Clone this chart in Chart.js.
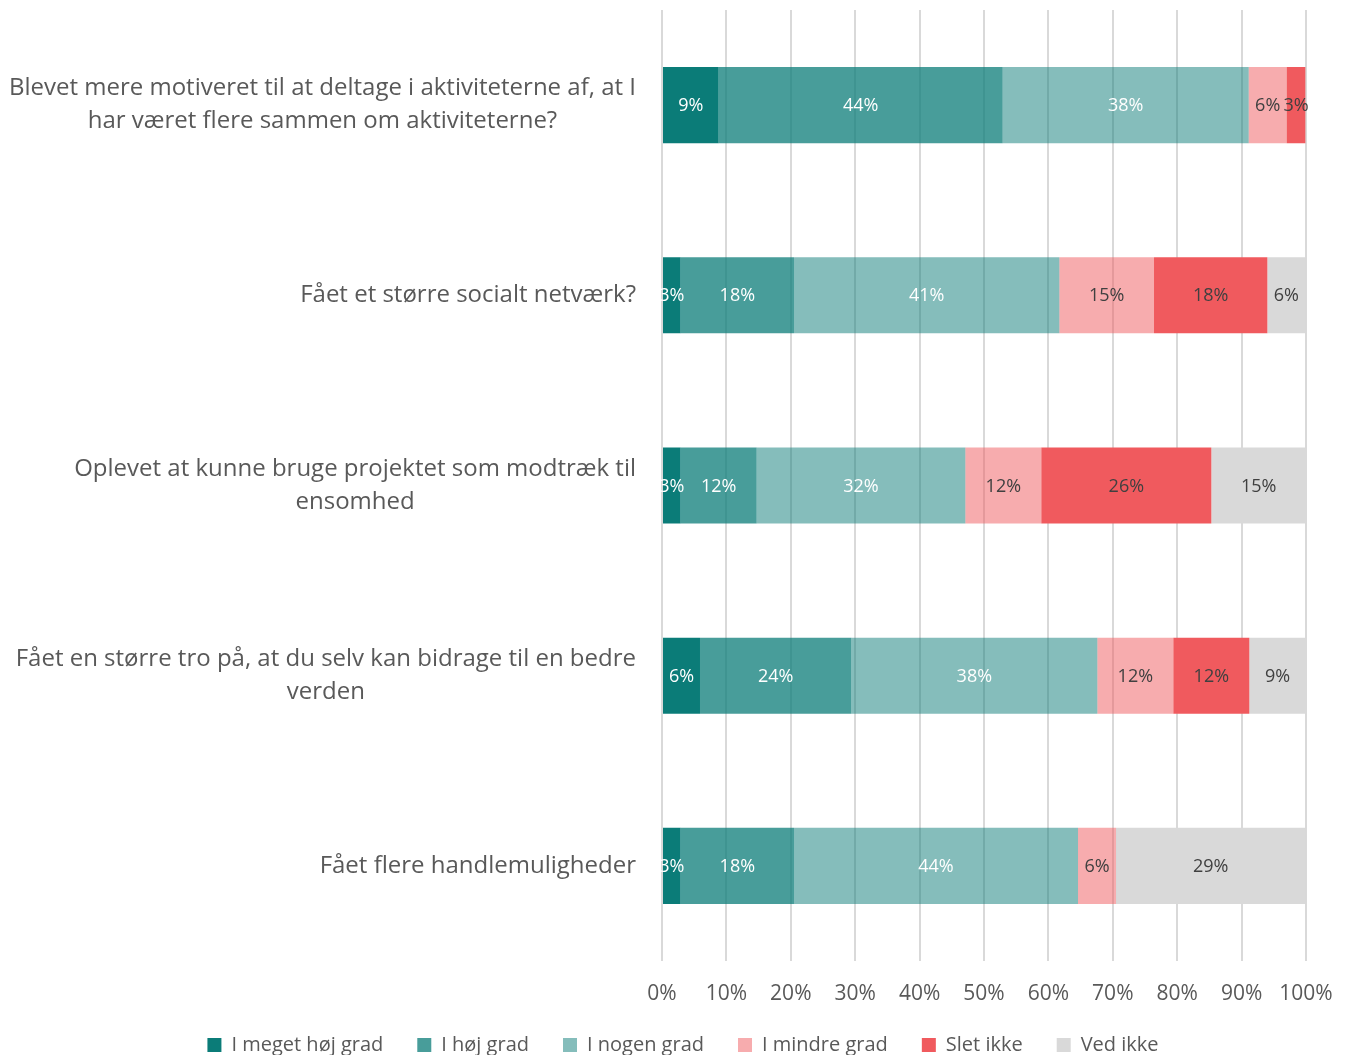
<!DOCTYPE html>
<html>
<head>
<meta charset="utf-8">
<script src="https://cdn.jsdelivr.net/npm/chart.js@4"></script>
<style>
  html, body { margin: 0; padding: 0; background: #fff; overflow: hidden; }
  #wrap { width: 1348px; height: 1055px; }
</style>
</head>
<body>
<div id="wrap"><canvas id="chart"></canvas></div>
<script>
// categories (question texts, split into lines as in the report)
const categories = [
    ['Blevet mere motiveret til at deltage i aktiviteterne af, at I', 'har været flere sammen om aktiviteterne?'],
    ['Fået et større socialt netværk?'],
    ['Oplevet at kunne bruge projektet som modtræk til', 'ensomhed'],
    ['Fået en større tro på, at du selv kan bidrage til en bedre', 'verden'],
    ['Fået flere handlemuligheder']
];
const seriesNames = ['I meget høj grad', 'I høj grad', 'I nogen grad', 'I mindre grad', 'Slet ikke', 'Ved ikke'];

// share of answers in percent
const meget  = [8.8, 2.9, 2.9, 5.9, 2.9];
const hoej   = [44.1, 17.6, 11.8, 23.5, 17.6];
const nogen  = [38.2, 41.2, 32.4, 38.2, 44.1];
const mindre = [5.9, 14.7, 11.8, 11.8, 5.9];
const slet   = [2.9, 17.6, 26.4, 11.8, 0];
const vedIkke = [0, 5.9, 14.7, 8.8, 29.4];

const xTicks = [0, 10, 20, 30, 40, 50, 60, 70, 80, 90, 100];

const colors = ['rgba(11,124,120,1)', 'rgba(11,124,120,0.75)', 'rgba(11,124,120,0.5)',
                'rgba(240,90,94,0.5)', 'rgba(240,90,94,1)', '#D9D9D9'];
const labelColors = ['#ffffff', '#ffffff', '#ffffff', '#404040', '#404040', '#404040'];
const FONT = '"Open Sans", "DejaVu Sans", sans-serif';

const allSeries = [meget, hoej, nogen, mindre, slet, vedIkke];
const datasets = allSeries.map(function(vals, i) {
    return {
        label: seriesNames[i],
        data: vals,
        backgroundColor: colors[i],
        borderWidth: 0,
        barPercentage: 0.4,
        categoryPercentage: 1.0
    };
});

// value labels centred in each segment
const segmentLabels = {
    id: 'segmentLabels',
    afterDatasetsDraw(chart) {
        const ctx = chart.ctx;
        ctx.save();
        ctx.font = '18px ' + FONT;
        ctx.textAlign = 'center';
        ctx.textBaseline = 'middle';
        chart.data.datasets.forEach(function(ds, di) {
            const meta = chart.getDatasetMeta(di);
            meta.data.forEach(function(bar, i) {
                const v = ds.data[i];
                if (!v) return;
                const x = (bar.x + bar.base) / 2;
                ctx.fillStyle = labelColors[di];
                ctx.fillText(Math.round(v) + '%', x, bar.y + 1);
            });
        });
        ctx.restore();
    }
};

// category labels: block right aligned to the axis, lines centred in the block
const categoryLabels = {
    id: 'categoryLabels',
    afterLayout(chart) {
        // legend sits a bit right of the canvas centre in the original
        chart.legend.left += 30;
        chart.legend.right += 30;
    },
    afterDraw(chart) {
        const ctx = chart.ctx;
        const yScale = chart.scales.y;
        const right = chart.chartArea.left - 26;
        ctx.save();
        ctx.font = '24px ' + FONT;
        ctx.fillStyle = '#595959';
        ctx.textAlign = 'center';
        ctx.textBaseline = 'middle';
        chart.data.labels.forEach(function(lines, i) {
            const yc = yScale.getPixelForValue(i);
            let maxW = 0;
            lines.forEach(function(l) { maxW = Math.max(maxW, ctx.measureText(l).width); });
            const cx = right - maxW / 2;
            lines.forEach(function(l, j) {
                ctx.fillText(l, cx, yc + (j - (lines.length - 1) / 2) * 33);
            });
        });
        ctx.restore();
    }
};

const config = {
    type: 'bar',
    data: { labels: categories, datasets: datasets },
    options: {
        indexAxis: 'y',
        responsive: true,
        maintainAspectRatio: false,
        animation: false,
        layout: { padding: { top: 10, right: 42, left: 0, bottom: -10 } },
        scales: {
            x: {
                stacked: true,
                min: 0,
                max: 100,
                afterBuildTicks: function(scale) {
                    scale.ticks = xTicks.map(function(v) { return { value: v }; });
                },
                afterFit: function(scale) {
                    scale.height = 40;
                    scale.paddingLeft = 0;
                    scale.paddingRight = 0;
                },
                grid: { color: '#D9D9D9', lineWidth: 2, drawTicks: false },
                border: { display: false },
                ticks: {
                    padding: 20,
                    color: '#595959',
                    font: { family: FONT, size: 21 },
                    maxRotation: 0,
                    callback: function(v) { return v + '%'; }
                }
            },
            y: {
                stacked: true,
                afterFit: function(scale) { scale.width = 662; },
                grid: { display: false },
                border: { display: false },
                ticks: { display: false }
            }
        },
        plugins: {
            legend: {
                position: 'bottom',
                labels: {
                    boxWidth: 14,
                    boxHeight: 14,
                    padding: 34,
                    color: '#595959',
                    font: { family: FONT, size: 20 }
                }
            },
            tooltip: { enabled: false }
        }
    },
    plugins: [segmentLabels, categoryLabels]
};

const myChart = new Chart(document.getElementById('chart'), config);
</script>
</body>
</html>
